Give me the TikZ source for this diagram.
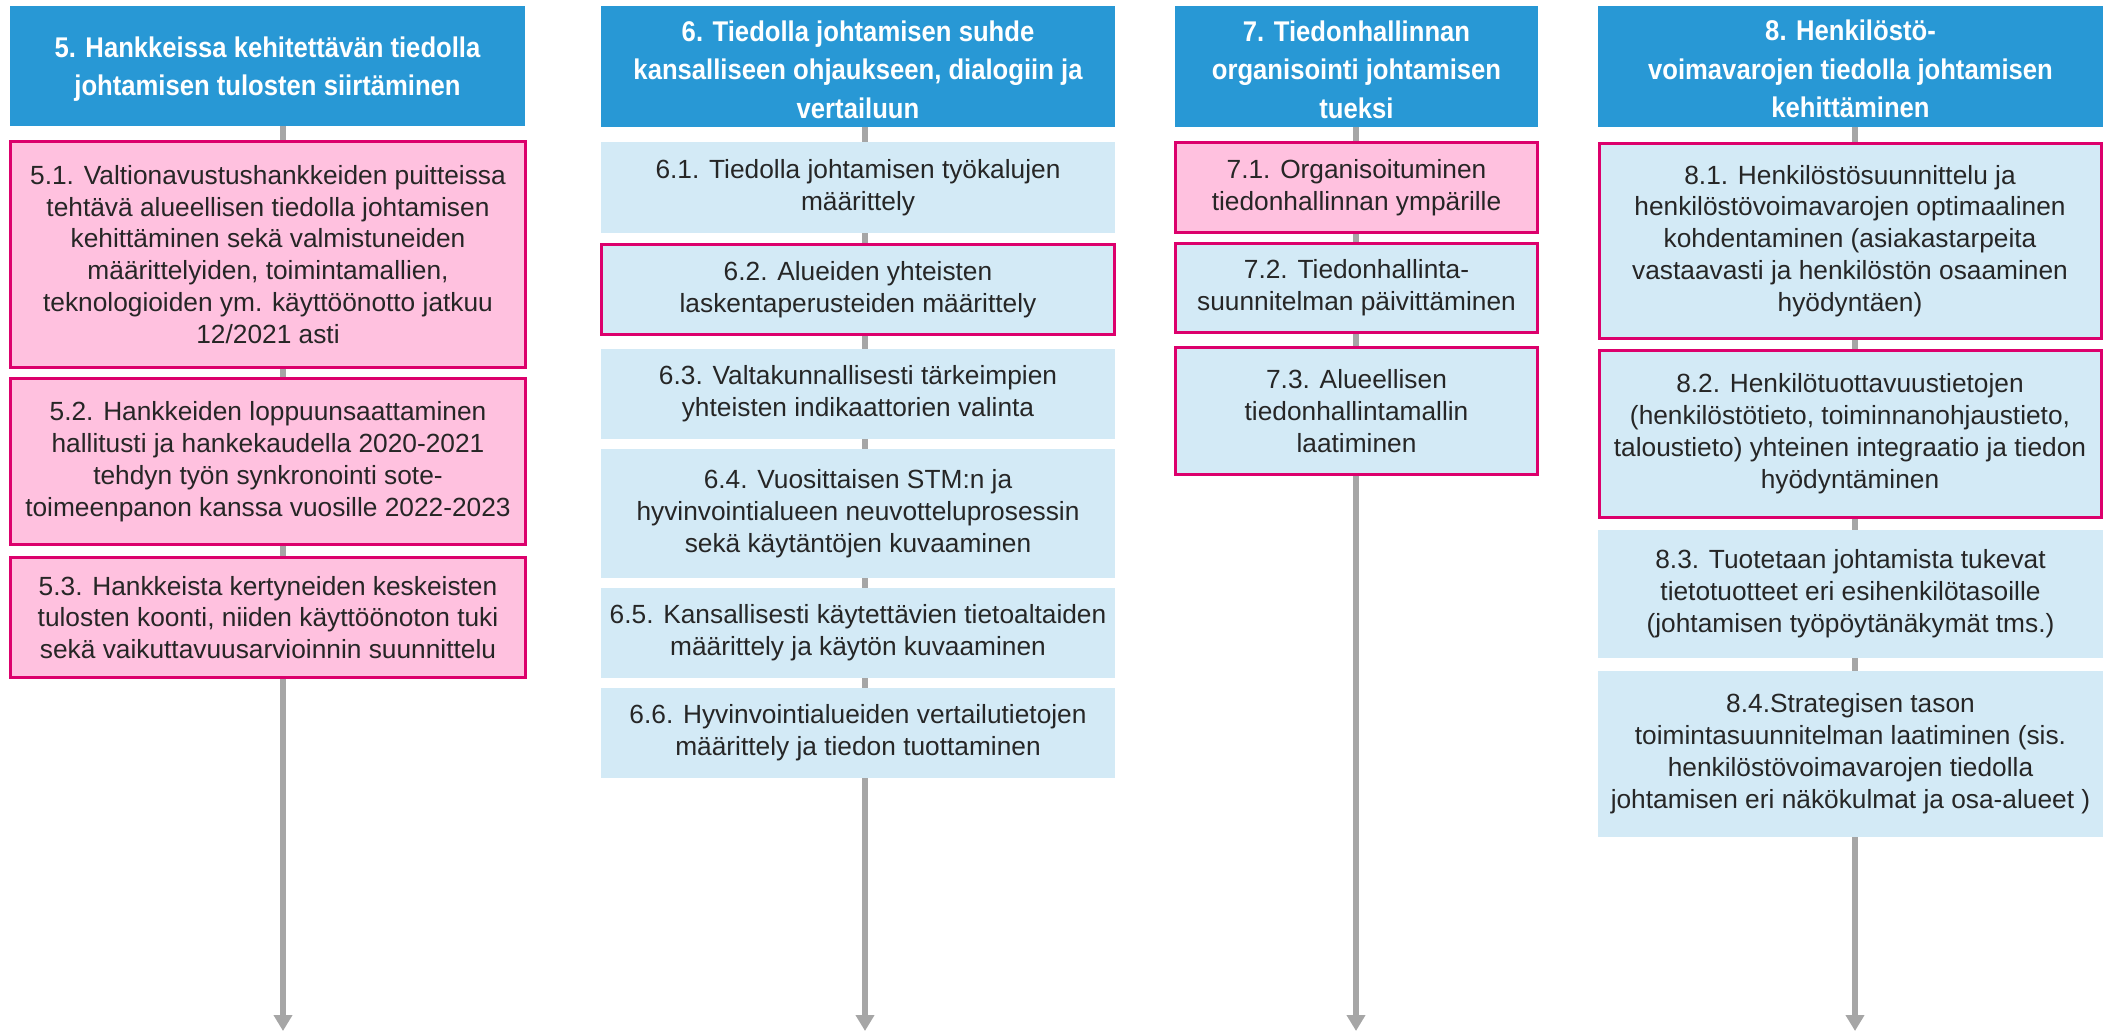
\documentclass[tikz,border=0pt]{standalone}
\usepackage{fontspec}
\setmainfont{Liberation Sans}
\newfontfamily\headfont[FakeStretch=0.9]{Liberation Sans}
\usetikzlibrary{arrows.meta}
\definecolor{hblue}{HTML}{2898D5}
\definecolor{pinkfill}{HTML}{FFC1DF}
\definecolor{magborder}{HTML}{DC006C}
\definecolor{lightfill}{HTML}{D3EAF6}
\definecolor{conngray}{HTML}{A6A6A6}
\definecolor{txt}{HTML}{262626}
\begin{document}
\begin{tikzpicture}[x=1pt,y=-1pt,
  hdr/.style={fill=hblue,inner sep=0pt},
  hdrtext/.style={text=white,align=center,inner sep=0pt,yshift=-3pt,
    font=\headfont\bfseries\fontsize{28.5pt}{38.5pt}\selectfont},
  item/.style={text=txt,align=center,inner sep=0pt,
    font=\fontsize{26.3pt}{31.9pt}\selectfont},
  pinkbox/.style={item,fill=pinkfill,draw=magborder,line width=3pt},
  lightbox/.style={item,fill=lightfill},
  lightred/.style={item,fill=lightfill,draw=magborder,line width=3pt},
  conn/.style={draw=conngray,line width=6pt},
  endarrow/.style={conn,-{Triangle[width=18pt,length=16pt]}}]
\useasboundingbox (0,0) rectangle (2103,1031);
% column 5
\node[hdr,minimum width=515pt,minimum height=120pt] (h5) at (267.5,66) {};
\node[hdrtext] (t5) at (h5.center)
  {5. Hankkeissa kehitettävän tiedolla\\johtamisen tulosten siirtäminen};
\node[pinkbox,minimum width=515pt,minimum height=226pt] (b51) at (268,254.5)
  {5.1. Valtionavustushankkeiden puitteissa\\tehtävä alueellisen tiedolla johtamisen\\kehittäminen sekä valmistuneiden\\määrittelyiden, toimintamallien,\\teknologioiden ym. käyttöönotto jatkuu\\12/2021 asti};
\node[pinkbox,minimum width=515pt,minimum height=166pt] (b52) at (268,461.5)
  {5.2. Hankkeiden loppuunsaattaminen\\hallitusti ja hankekaudella 2020-2021\\tehdyn työn synkronointi sote-\\toimeenpanon kanssa vuosille 2022-2023};
\node[pinkbox,minimum width=515pt,minimum height=120pt] (b53) at (268,617.5)
  {5.3. Hankkeista kertyneiden keskeisten\\tulosten koonti, niiden käyttöönoton tuki\\sekä vaikuttavuusarvioinnin suunnittelu};
\coordinate (e5) at (283,1031);
% column 6
\node[hdr,minimum width=514pt,minimum height=121pt] (h6) at (858,66.5) {};
\node[hdrtext] (t6) at (h6.center)
  {6. Tiedolla johtamisen suhde\\kansalliseen ohjaukseen, dialogiin ja\\vertailuun};
\node[lightbox,minimum width=514pt,minimum height=91pt] (b61) at (858,187.5)
  {6.1. Tiedolla johtamisen työkalujen\\määrittely};
\node[lightred,minimum width=513pt,minimum height=90pt] (b62) at (858,289.5)
  {6.2. Alueiden yhteisten\\laskentaperusteiden määrittely};
\node[lightbox,minimum width=514pt,minimum height=90pt] (b63) at (858,394)
  {6.3. Valtakunnallisesti tärkeimpien\\yhteisten indikaattorien valinta};
\node[lightbox,minimum width=514pt,minimum height=129pt] (b64) at (858,513.5)
  {6.4. Vuosittaisen STM:n ja\\hyvinvointialueen neuvotteluprosessin\\sekä käytäntöjen kuvaaminen};
\node[lightbox,minimum width=514pt,minimum height=90pt] (b65) at (858,633)
  {6.5. Kansallisesti käytettävien tietoaltaiden\\määrittely ja käytön kuvaaminen};
\node[lightbox,minimum width=514pt,minimum height=90pt] (b66) at (858,733)
  {6.6. Hyvinvointialueiden vertailutietojen\\määrittely ja tiedon tuottaminen};
\coordinate (e6) at (865,1031);
% column 7
\node[hdr,minimum width=363pt,minimum height=121pt] (h7) at (1356.5,66.5) {};
\node[hdrtext] (t7) at (h7.center)
  {7. Tiedonhallinnan\\organisointi johtamisen\\tueksi};
\node[pinkbox,minimum width=362pt,minimum height=90pt] (b71) at (1356.5,187.5)
  {7.1. Organisoituminen\\tiedonhallinnan ympärille};
\node[lightred,minimum width=362pt,minimum height=89pt] (b72) at (1356.5,288)
  {7.2. Tiedonhallinta-\\suunnitelman päivittäminen};
\node[lightred,minimum width=362pt,minimum height=127pt] (b73) at (1356.5,411)
  {7.3. Alueellisen\\tiedonhallintamallin\\laatiminen};
\coordinate (e7) at (1356,1031);
% column 8
\node[hdr,minimum width=505pt,minimum height=121pt] (h8) at (1850.5,66) {};
\node[hdrtext] (t8) at (h8.center)
  {8. Henkilöstö-\\voimavarojen tiedolla johtamisen\\kehittäminen};
\node[lightred,minimum width=502pt,minimum height=195pt] (b81) at (1850,241)
  {8.1. Henkilöstösuunnittelu ja\\henkilöstövoimavarojen optimaalinen\\kohdentaminen (asiakastarpeita\\vastaavasti ja henkilöstön osaaminen\\hyödyntäen)};
\node[lightred,minimum width=502pt,minimum height=167pt] (b82) at (1850,434)
  {8.2. Henkilötuottavuustietojen\\(henkilöstötieto, toiminnanohjaustieto,\\taloustieto) yhteinen integraatio ja tiedon\\hyödyntäminen};
\node[lightbox,minimum width=505pt,minimum height=128pt] (b83) at (1850.5,594)
  {8.3. Tuotetaan johtamista tukevat\\tietotuotteet eri esihenkilötasoille\\(johtamisen työpöytänäkymät tms.)};
\node[lightbox,minimum width=505pt,minimum height=166pt] (b84) at (1850.5,754)
  {8.4.Strategisen tason\\toimintasuunnitelman laatiminen (sis.\\henkilöstövoimavarojen tiedolla\\johtamisen eri näkökulmat ja osa-alueet )};
\coordinate (e8) at (1855,1031);
% connectors
\draw[conn] (h5.south -| e5) -- (b51.north -| e5);
\draw[conn] (b51.south -| e5) -- (b52.north -| e5);
\draw[conn] (b52.south -| e5) -- (b53.north -| e5);
\draw[endarrow] (b53.south -| e5) -- (e5);
\draw[conn] (h6.south -| e6) -- (b61.north -| e6);
\draw[conn] (b61.south -| e6) -- (b62.north -| e6);
\draw[conn] (b62.south -| e6) -- (b63.north -| e6);
\draw[conn] (b63.south -| e6) -- (b64.north -| e6);
\draw[conn] (b64.south -| e6) -- (b65.north -| e6);
\draw[conn] (b65.south -| e6) -- (b66.north -| e6);
\draw[endarrow] (b66.south -| e6) -- (e6);
\draw[conn] (h7.south -| e7) -- (b71.north -| e7);
\draw[conn] (b71.south -| e7) -- (b72.north -| e7);
\draw[conn] (b72.south -| e7) -- (b73.north -| e7);
\draw[endarrow] (b73.south -| e7) -- (e7);
\draw[conn] (h8.south -| e8) -- (b81.north -| e8);
\draw[conn] (b81.south -| e8) -- (b82.north -| e8);
\draw[conn] (b82.south -| e8) -- (b83.north -| e8);
\draw[conn] (b83.south -| e8) -- (b84.north -| e8);
\draw[endarrow] (b84.south -| e8) -- (e8);
\end{tikzpicture}
\end{document}
